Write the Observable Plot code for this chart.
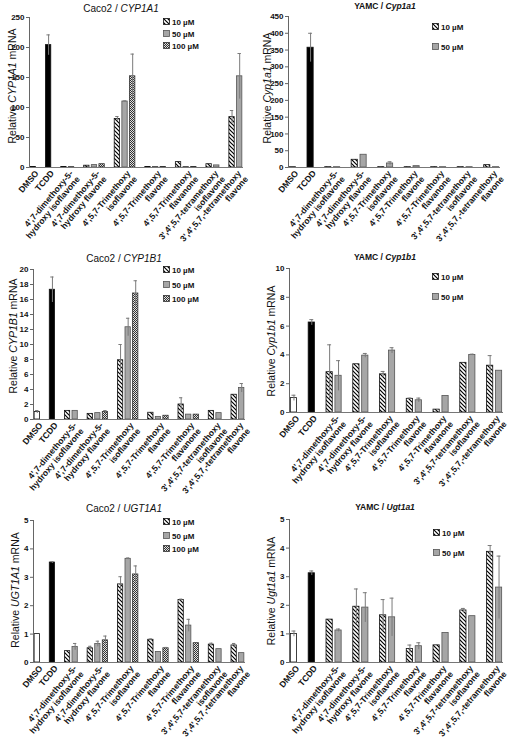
<!DOCTYPE html>
<html><head><meta charset="utf-8">
<script src="https://cdn.jsdelivr.net/npm/d3@7"></script>
<script src="https://cdn.jsdelivr.net/npm/@observablehq/plot@0.6"></script>
<style>
body{margin:0;background:#fff;font-family:"Liberation Sans",Arial,sans-serif;}
#root{position:relative;width:512px;height:750px;overflow:hidden;background:#fff;}
.panel{position:absolute;width:256px;height:250px;}
.title{position:absolute;font-size:10px;white-space:nowrap;transform:translateX(-50%);color:#111;}
.legend{position:absolute;font-size:8px;font-weight:bold;color:#111;}
.legend .row{position:absolute;left:0;white-space:nowrap;height:10px;line-height:10px;}
.legend svg{vertical-align:middle;margin-right:2px;position:relative;top:-1px;}
</style></head><body>
<svg width="0" height="0" style="position:absolute">
<defs>
<pattern id="hatch" patternUnits="userSpaceOnUse" width="4" height="4">
<rect width="4" height="4" fill="white"/>
<path d="M-1,-1 L5,5 M-1,3 L1,5 M3,-1 L5,1" stroke="black" stroke-width="1.2"/>
</pattern>
<pattern id="checker" patternUnits="userSpaceOnUse" width="2" height="2">
<rect width="2" height="2" fill="#e0e0e0"/>
<rect width="1" height="1" fill="#333"/>
<rect x="1" y="1" width="1" height="1" fill="#333"/>
</pattern>
</defs>
</svg>
<div id="root"></div>
<script>
// ---------- data ----------
const categories = ["DMSO","TCDD","dmhIso","dmhFla","tmIso","tmFla","tmFlan","tetIso","tetFla"];
const categoryLabels = [
  "DMSO",
  "TCDD",
  "4',7-dimethoxy-5-\nhydroxy isoflavone",
  "4',7-dimethoxy-5-\nhydroxy flavone",
  "4',5,7-Trimethoxy\nisoflavone",
  "4',5,7-Trimethoxy\nflavone",
  "4',5,7-Trimethoxy\nflavanone",
  "3',4',5,7-tetramethoxy\nisoflavone",
  "3',4',5,7,-tetramethoxy\nflavone"
];
const caco2Doses = ["10 µM","50 µM","100 µM"];
const yamcDoses = ["10 µM","50 µM"];

// Caco2 / CYP1A1
const caco2Cyp1a1Controls = [1, 204];
const caco2Cyp1a1ControlErr = [0, 17];
const caco2Cyp1a1D10 = [0.8, 3, 81, 0.8, 9, 5.5, 84];
const caco2Cyp1a1E10 = [0, 0, 4, 0, 0, 0, 11];
const caco2Cyp1a1D50 = [0.8, 4, 110, 0.8, 0.8, 3.5, 152];
const caco2Cyp1a1E50 = [0, 0, 1, 0, 0, 0, 38];
const caco2Cyp1a1D100 = [null, 5.5, 152, 0.8, 0.8, null, null];
const caco2Cyp1a1E100 = [0, 0, 37, 0, 0, 0, 0];
const caco2Cyp1a1Ticks = [0, 50, 100, 150, 200, 250];

// YAMC / Cyp1a1
const yamcCyp1a1Controls = [1, 357];
const yamcCyp1a1ControlErr = [0, 43];
const yamcCyp1a1D10 = [1, 23, 1, 1, 1, 1, 7];
const yamcCyp1a1E10 = [0, 0, 0, 0, 0, 0, 0];
const yamcCyp1a1D50 = [1, 38, 12, 4, 1, 1, 1];
const yamcCyp1a1E50 = [0, 0, 5, 1, 0, 0, 0];
const yamcCyp1a1Ticks = [0, 50, 100, 150, 200, 250, 300, 350, 400, 450];

// Caco2 / CYP1B1
const caco2Cyp1b1Controls = [1, 17.3];
const caco2Cyp1b1ControlErr = [0.2, 1.7];
const caco2Cyp1b1D10 = [1.15, 0.75, 7.9, 0.9, 2.0, 1.15, 3.3];
const caco2Cyp1b1E10 = [0, 0, 2.1, 0, 0.9, 0, 0];
const caco2Cyp1b1D50 = [1.15, 0.85, 12.3, 0.35, 0.65, 0.85, 4.2];
const caco2Cyp1b1E50 = [0, 0, 1.2, 0, 0, 0, 0.6];
const caco2Cyp1b1D100 = [null, 1.0, 16.8, 0.5, 0.65, null, null];
const caco2Cyp1b1E100 = [0, 0.2, 1.7, 0, 0, 0, 0];
const caco2Cyp1b1Ticks = [0, 2, 4, 6, 8, 10, 12, 14, 16, 18, 20];

// YAMC / Cyp1b1
const yamcCyp1b1Controls = [1.0, 6.25];
const yamcCyp1b1ControlErr = [0.2, 0.2];
const yamcCyp1b1D10 = [2.8, 3.35, 2.65, 0.95, 0.2, 3.45, 3.25];
const yamcCyp1b1E10 = [1.9, 0, 0.2, 0.05, 0, 0, 0.7];
const yamcCyp1b1D50 = [2.55, 3.95, 4.3, 0.85, 1.15, 4.0, 2.9];
const yamcCyp1b1E50 = [1.05, 0.15, 0.2, 0.15, 0, 0.05, 0];
const yamcCyp1b1Ticks = [0, 2, 4, 6, 8, 10];

// Caco2 / UGT1A1
const caco2Ugt1a1Controls = [1.0, 3.52];
const caco2Ugt1a1ControlErr = [0, 0.03];
const caco2Ugt1a1D10 = [0.4, 0.5, 2.75, 0.8, 2.2, 0.63, 0.6];
const caco2Ugt1a1E10 = [0, 0.07, 0.27, 0.03, 0.03, 0.05, 0.07];
const caco2Ugt1a1D50 = [0.55, 0.65, 3.65, 0.37, 1.3, 0.47, 0.33];
const caco2Ugt1a1E50 = [0.12, 0.1, 0.03, 0, 0.22, 0, 0];
const caco2Ugt1a1D100 = [null, 0.78, 3.1, 0.5, 0.68, null, null];
const caco2Ugt1a1E100 = [0, 0.15, 0.3, 0.03, 0, 0, 0];
const caco2Ugt1a1Ticks = [0, 1, 2, 3, 4, 5];

// YAMC / Ugt1a1
const yamcUgt1a1Controls = [1.0, 3.12];
const yamcUgt1a1ControlErr = [0.1, 0.08];
const yamcUgt1a1D10 = [1.5, 1.95, 1.65, 0.47, 0.6, 1.82, 3.87];
const yamcUgt1a1E10 = [0, 0.62, 0.55, 0.14, 0, 0.07, 0.22];
const yamcUgt1a1D50 = [1.12, 1.92, 1.58, 0.57, 1.03, 1.62, 2.62];
const yamcUgt1a1E50 = [0.05, 0.52, 0.67, 0.12, 0, 0, 1.1];
const yamcUgt1a1Ticks = [0, 1, 2, 3, 4, 5];

// ---------- styles ----------
const doseFills = ["url(#hatch)", "#a6a6a6", "url(#checker)"];
const doseStrokes = ["#111", "#555", "#333"];
const controlFills = ["white", "black"];

const panels = [
  {left:0, top:0, cell:"Caco2", gene:"CYP1A1", bold:false, doses:caco2Doses,
   controls:caco2Cyp1a1Controls, controlErr:caco2Cyp1a1ControlErr,
   values:[caco2Cyp1a1D10, caco2Cyp1a1D50, caco2Cyp1a1D100], errors:[caco2Cyp1a1E10, caco2Cyp1a1E50, caco2Cyp1a1E100],
   ticks:caco2Cyp1a1Ticks, m:[17,13,83,29], title:[121,3], ylab:[12,86], legend:[163,23,12]},
  {left:256, top:0, cell:"YAMC ", gene:"Cyp1a1", bold:true, doses:yamcDoses,
   controls:yamcCyp1a1Controls, controlErr:yamcCyp1a1ControlErr,
   values:[yamcCyp1a1D10, yamcCyp1a1D50], errors:[yamcCyp1a1E10, yamcCyp1a1E50],
   ticks:yamcCyp1a1Ticks, m:[16,12,83,32], title:[129,1], ylab:[11,88], legend:[176,28,20]},
  {left:0, top:250, cell:"Caco2", gene:"CYP1B1", bold:false, doses:caco2Doses,
   controls:caco2Cyp1b1Controls, controlErr:caco2Cyp1b1ControlErr,
   values:[caco2Cyp1b1D10, caco2Cyp1b1D50, caco2Cyp1b1D100], errors:[caco2Cyp1b1E10, caco2Cyp1b1E50, caco2Cyp1b1E100],
   ticks:caco2Cyp1b1Ticks, m:[19,11,81,33], title:[124,3], ylab:[13,86], legend:[163,21,14.5]},
  {left:256, top:250, cell:"YAMC ", gene:"Cyp1b1", bold:true, doses:yamcDoses,
   controls:yamcCyp1b1Controls, controlErr:yamcCyp1b1ControlErr,
   values:[yamcCyp1b1D10, yamcCyp1b1D50], errors:[yamcCyp1b1E10, yamcCyp1b1E50],
   ticks:yamcCyp1b1Ticks, m:[18,9,88,33], title:[129,2], ylab:[15,91], legend:[176,28,20]},
  {left:0, top:500, cell:"Caco2", gene:"UGT1A1", bold:false, doses:caco2Doses,
   controls:caco2Ugt1a1Controls, controlErr:caco2Ugt1a1ControlErr,
   values:[caco2Ugt1a1D10, caco2Ugt1a1D50, caco2Ugt1a1D100], errors:[caco2Ugt1a1E10, caco2Ugt1a1E50, caco2Ugt1a1E100],
   ticks:caco2Ugt1a1Ticks, m:[20,11,88,33], title:[124,3], ylab:[15,90], legend:[163,23,13.5]},
  {left:256, top:500, cell:"YAMC ", gene:"Ugt1a1", bold:true, doses:yamcDoses,
   controls:yamcUgt1a1Controls, controlErr:yamcUgt1a1ControlErr,
   values:[yamcUgt1a1D10, yamcUgt1a1D50], errors:[yamcUgt1a1E10, yamcUgt1a1E50],
   ticks:yamcUgt1a1Ticks, m:[19,9,88,33], title:[129,2], ylab:[15,91], legend:[177,34,20]}
];

const root = document.getElementById("root");

function buildBars(p) {
  const bars = [], groups = [];
  let slot = 0;
  categories.forEach((c, i) => {
    if (i > 0) slot++; // gap between categories
    const start = slot;
    if (i < 2) {
      bars.push({slot, value: p.controls[i], err: p.controlErr[i], fill: controlFills[i], stroke: "#111"});
      slot++;
    } else {
      p.doses.forEach((d, j) => {
        const v = p.values[j][i - 2];
        if (v == null) return;
        bars.push({slot, value: v, err: p.errors[j][i - 2], fill: doseFills[j], stroke: doseStrokes[j]});
        slot++;
      });
    }
    groups.push({label: categoryLabels[i], center: (start + slot - 1) / 2});
  });
  return {bars, groups, nSlots: slot};
}

panels.forEach(p => {
  const {bars, groups, nSlots} = buildBars(p);
  const withErr = bars.filter(d => d.err > 0);
  const yMax = p.ticks[p.ticks.length - 1];
  const [mt, mr, mb, ml] = p.m;
  const hw = 0.35;
  const svg = Plot.plot({
    width: 256, height: 250,
    marginTop: mt, marginRight: mr, marginBottom: mb, marginLeft: ml,
    style: {fontFamily: "'Liberation Sans', Arial, sans-serif", background: "transparent", color: "#111", overflow: "visible"},
    x: {domain: [-0.5, nSlots - 0.5], axis: null},
    y: {domain: [0, yMax], axis: null},
    color: {type: "identity"},
    marks: [
      Plot.rectY(bars, {x1: d => d.slot - hw, x2: d => d.slot + hw, y1: 0, y2: "value",
        fill: "fill", stroke: "stroke", strokeWidth: 0.8}),
      Plot.ruleX(withErr, {x: "slot", y1: d => d.value - d.err, y2: d => d.value + d.err, stroke: "#7a7a7a", strokeWidth: 1}),
      Plot.ruleY(withErr, {y: d => d.value + d.err, x1: d => d.slot - 0.22, x2: d => d.slot + 0.22, stroke: "#7a7a7a", strokeWidth: 1}),
      Plot.ruleY([0], {stroke: "#777", strokeWidth: 1}),
      Plot.ruleX([-0.5], {stroke: "#666", strokeWidth: 1}),
      Plot.axisY({ticks: p.ticks, tickFormat: d => String(d), label: null, tickSize: 3, tickPadding: 2,
        fontSize: 8, fontWeight: "bold", stroke: "#666"}),
      Plot.text(groups, {x: "center", y: 0, text: "label", rotate: -50, textAnchor: "end", lineAnchor: "top",
        dy: 2, dx: 1, fontSize: 8.6, fontWeight: "bold", lineHeight: 1.03, fill: "#111",
        ariaLabel: "category-labels"})
    ]
  });
  d3.select(svg).selectAll('g[aria-label="category-labels"] text').style("letter-spacing", "0.45px");
  const div = document.createElement("div");
  div.className = "panel";
  div.style.left = p.left + "px";
  div.style.top = p.top + "px";
  div.appendChild(svg);
  root.appendChild(div);

  // y-axis title with italic gene name
  const t = d3.select(svg).append("text")
    .attr("transform", `translate(${p.ylab[0]},${p.ylab[1]}) rotate(-90)`)
    .attr("text-anchor", "middle").attr("dy", "0.35em")
    .attr("font-size", 10.5).attr("fill", "#111")
    .attr("font-family", "'Liberation Sans', Arial, sans-serif");
  t.append("tspan").text("Relative ");
  t.append("tspan").attr("font-style", "italic").text(p.gene);
  t.append("tspan").text(" mRNA");

  // title
  const title = document.createElement("div");
  title.className = "title";
  title.style.left = (p.left + p.title[0]) + "px";
  title.style.top = (p.top + p.title[1]) + "px";
  if (p.bold) { title.style.fontWeight = "bold"; title.style.fontSize = "8.5px"; }
  title.innerHTML = `${p.cell} / <i>${p.gene}</i>`;
  root.appendChild(title);

  // legend
  const lg = document.createElement("div");
  lg.className = "legend";
  lg.style.left = (p.left + p.legend[0]) + "px";
  lg.style.top = (p.top + p.legend[1]) + "px";
  p.doses.forEach((d, j) => {
    const row = document.createElement("div");
    row.className = "row";
    row.style.top = (j * p.legend[2] - 5) + "px";
    row.innerHTML = `<svg width="7" height="7"><rect x="0.5" y="0.5" width="6" height="6" fill="${doseFills[j]}" stroke="${doseStrokes[j]}" stroke-width="0.8"/></svg>${d}`;
    lg.appendChild(row);
  });
  root.appendChild(lg);
});
</script>
</body></html>
